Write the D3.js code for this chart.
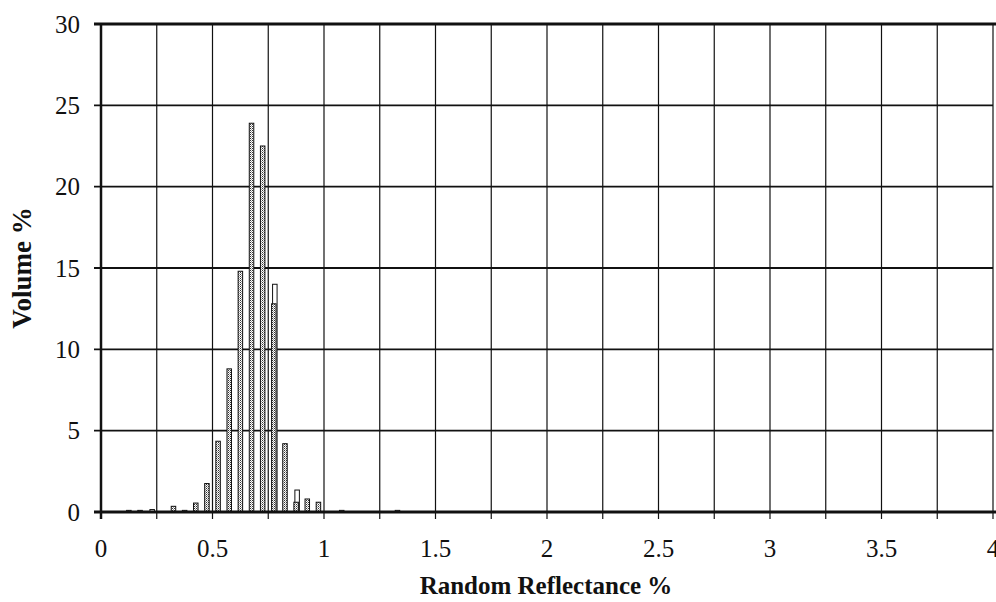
<!DOCTYPE html>
<html>
<head>
<meta charset="utf-8">
<script src="https://cdn.jsdelivr.net/npm/d3@7"></script>
<style>
  body { margin: 0; background: #fff; }
</style>
</head>
<body>
<svg id="chart" width="996" height="602"></svg>
<script>
// reflectance bin midpoints (%)
var binMid = [0.125, 0.175, 0.225, 0.325, 0.375, 0.425, 0.475, 0.525, 0.575, 0.625,
              0.675, 0.725, 0.775, 0.825, 0.875, 0.925, 0.975, 1.075, 1.325];
// stippled columns (volume %)
var volStippled = [0.1, 0.1, 0, 0.35, 0.1, 0.55, 1.75, 4.35, 8.8, 14.8,
                   23.9, 22.5, 12.8, 4.2, 0.6, 0.8, 0.6, 0, 0];
// hollow columns, only where they show above the stippled ones
var volOutline = [0, 0, 0.15, 0, 0, 0, 0, 0, 0, 0,
                  0, 0, 14.0, 0, 1.35, 0, 0, 0.1, 0.1];

var xTicks = [0, 0.5, 1, 1.5, 2, 2.5, 3, 3.5, 4];
var yTicks = [0, 5, 10, 15, 20, 25, 30];

var serif = "'Liberation Serif', 'Times New Roman', Times, 'DejaVu Serif', serif";

var svg = d3.select("#chart");

var x = d3.scaleLinear().domain([0, 4]).range([101, 993]);
var y = d3.scaleLinear().domain([0, 30]).range([512, 24]);

// dotted fill like the printed columns
var defs = svg.append("defs");
var pat = defs.append("pattern")
  .attr("id", "stipple")
  .attr("width", 2).attr("height", 2)
  .attr("patternUnits", "userSpaceOnUse");
pat.append("rect").attr("width", 2).attr("height", 2).attr("fill", "#fff");
pat.append("rect").attr("width", 1).attr("height", 1).attr("fill", "#333");
pat.append("rect").attr("x", 1).attr("y", 1).attr("width", 1).attr("height", 1).attr("fill", "#999");

// vertical grid every 0.25
svg.append("g")
  .selectAll("line")
  .data(d3.range(1, 17).map(function(i) { return i * 0.25; }))
  .enter().append("line")
  .attr("x1", function(d) { return x(d); })
  .attr("x2", function(d) { return x(d); })
  .attr("y1", y(30)).attr("y2", y(0) + 7)
  .attr("stroke", "#111").attr("stroke-width", 1.2);

// horizontal grid every 5
svg.append("g")
  .selectAll("line")
  .data(yTicks.slice(1, -1))
  .enter().append("line")
  .attr("x1", x(0) - 7).attr("x2", x(4))
  .attr("y1", function(d) { return y(d); })
  .attr("y2", function(d) { return y(d); })
  .attr("stroke", "#111").attr("stroke-width", 1.8);

// hollow columns first, stippled on top
var barW = 4.5;
svg.append("g")
  .selectAll("rect")
  .data(binMid.map(function(m, i) { return { m: m, v: volOutline[i] }; })
    .filter(function(d) { return d.v > 0; }))
  .enter().append("rect")
  .attr("x", function(d) { return x(d.m) - barW / 2 + 1; })
  .attr("y", function(d) { return y(d.v); })
  .attr("width", barW)
  .attr("height", function(d) { return y(0) - y(d.v); })
  .attr("fill", "#fff").attr("stroke", "#111").attr("stroke-width", 1);

svg.append("g")
  .selectAll("rect")
  .data(binMid.map(function(m, i) { return { m: m, v: volStippled[i] }; })
    .filter(function(d) { return d.v > 0; }))
  .enter().append("rect")
  .attr("x", function(d) { return x(d.m) - barW / 2; })
  .attr("y", function(d) { return y(d.v); })
  .attr("width", barW)
  .attr("height", function(d) { return y(0) - y(d.v); })
  .attr("fill", "url(#stipple)").attr("stroke", "#111").attr("stroke-width", 1);

// frame: top, left and baseline are heavier
svg.append("line").attr("x1", x(0) - 7).attr("x2", 996)
  .attr("y1", y(30)).attr("y2", y(30)).attr("stroke", "#111").attr("stroke-width", 3);
svg.append("line").attr("x1", x(0)).attr("x2", x(0))
  .attr("y1", y(30)).attr("y2", y(0) + 7).attr("stroke", "#111").attr("stroke-width", 2.5);
svg.append("line").attr("x1", x(0) - 7).attr("x2", 996)
  .attr("y1", y(0)).attr("y2", y(0)).attr("stroke", "#111").attr("stroke-width", 3);

// tick labels
svg.append("g")
  .selectAll("text")
  .data(xTicks)
  .enter().append("text")
  .attr("x", function(d) { return x(d); })
  .attr("y", 557)
  .attr("text-anchor", "middle")
  .attr("font-family", serif)
  .attr("font-size", 25)
  .attr("fill", "#111")
  .text(function(d) { return d; });

svg.append("g")
  .selectAll("text")
  .data(yTicks)
  .enter().append("text")
  .attr("x", 80)
  .attr("y", function(d) { return y(d) + 8.5; })
  .attr("text-anchor", "end")
  .attr("font-family", serif)
  .attr("font-size", 25)
  .attr("fill", "#111")
  .text(function(d) { return d; });

// axis titles
svg.append("text")
  .attr("x", 546).attr("y", 594)
  .attr("text-anchor", "middle")
  .attr("font-family", serif)
  .attr("font-size", 25).attr("font-weight", "bold")
  .attr("fill", "#111")
  .text("Random Reflectance %");

svg.append("text")
  .attr("transform", "translate(31,268) rotate(-90)")
  .attr("text-anchor", "middle")
  .attr("font-family", serif)
  .attr("font-size", 27).attr("font-weight", "bold")
  .attr("fill", "#111")
  .text("Volume %");
</script>
</body>
</html>
